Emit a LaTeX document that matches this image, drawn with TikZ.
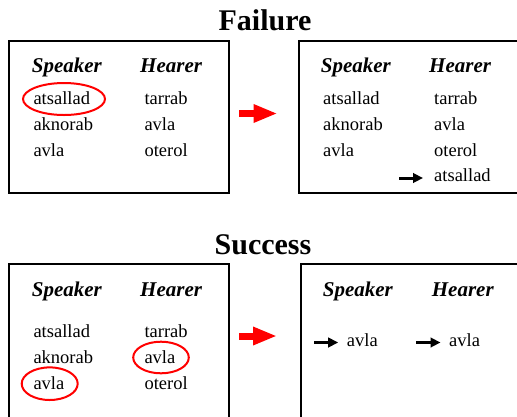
\documentclass[tikz,border=0pt]{standalone}
\usepackage{fontspec}
\setmainfont{Liberation Serif}
\usetikzlibrary{arrows.meta}

\begin{document}
\begin{tikzpicture}[x=1pt, y=-1pt,
      panel/.style ={rectangle, draw=black, line width=2pt, fill=white,
        minimum width=220pt, minimum height=152pt, inner sep=0pt},
      title/.style ={anchor=base, inner sep=0pt,
        font=\fontsize{30}{36}\selectfont\rmfamily\bfseries},
      head/.style ={anchor=base west, inner sep=0pt,
        font=\fontsize{21}{25}\selectfont\rmfamily\bfseries\itshape},
      word/.style ={anchor=base west, inner sep=0pt,
        font=\fontsize{18.5}{22}\selectfont\rmfamily},
      ring/.style ={draw=red, line width=2pt},
      step_arrow/.style ={draw=red, line width=7pt,
        -{Triangle[length=24pt,width=17pt]}},
      new_arrow/.style ={draw=black, line width=3pt,
        -{Triangle[length=10pt,width=9.5pt]}}]
    \clip (0,0) rectangle (517,416);
    %
    % 1. failure row
    \node [title] (t_fail) at (265,30) {Failure};
    \node [panel] (panel_tl) at (119,116.5) {};
    \node [panel, minimum width=225pt] (panel_tr) at (411,116.5) {};
    % speaker and hearer before
    \node [head] (tl_sp) at (31.7,72.7) {Speaker};
    \node [head] (tl_hr) at (140,72.7) {Hearer};
    \node [word] (tl_s1) at (33.3,104) {atsallad};
    \node [word] (tl_s2) at (33.3,130) {aknorab};
    \node [word] (tl_s3) at (33.3,156) {avla};
    \node [word] (tl_h1) at (144.3,104) {tarrab};
    \node [word] (tl_h2) at (144.3,130) {avla};
    \node [word] (tl_h3) at (144.3,156) {oterol};
    % speaker and hearer after
    \node [head] (tr_sp) at (320.7,72.7) {Speaker};
    \node [head] (tr_hr) at (429,72.7) {Hearer};
    \node [word] (tr_s1) at (323,104) {atsallad};
    \node [word] (tr_s2) at (323,130) {aknorab};
    \node [word] (tr_s3) at (323,156) {avla};
    \node [word] (tr_h1) at (434,104) {tarrab};
    \node [word] (tr_h2) at (434,130) {avla};
    \node [word] (tr_h3) at (434,156) {oterol};
    \node [word] (tr_h4) at (434,181.7) {atsallad};
    \coordinate (tr_new) at (399,178);
    %
    % 2. success row
    \node [title] (t_succ) at (263,254) {Success};
    \node [panel, minimum height=160pt] (panel_bl) at (119,344) {};
    \node [panel, minimum width=225pt, minimum height=160pt] (panel_br) at (413.5,344) {};
    % speaker and hearer before
    \node [head] (bl_sp) at (31.7,296.7) {Speaker};
    \node [head] (bl_hr) at (140,296.7) {Hearer};
    \node [word] (bl_s1) at (33.3,337.3) {atsallad};
    \node [word] (bl_s2) at (33.3,363.3) {aknorab};
    \node [word] (bl_s3) at (33.3,389.3) {avla};
    \node [word] (bl_h1) at (144.3,337.3) {tarrab};
    \node [word] (bl_h2) at (144.3,363.3) {avla};
    \node [word] (bl_h3) at (144.3,389.3) {oterol};
    % speaker and hearer after
    \node [head] (br_sp) at (322.7,296.7) {Speaker};
    \node [head] (br_hr) at (431.7,296.7) {Hearer};
    \node [word] (br_s1) at (346.7,346) {avla};
    \node [word] (br_h1) at (449,346) {avla};
    \coordinate (br_snew) at (314,342.5);
    \coordinate (br_hnew) at (416,342.5);
    %
    % 3. rings round the chosen words
    \draw [ring] (64,99) ellipse (41 and 16);
    \draw [ring] (49.7,383.7) ellipse (28 and 16.3);
    \draw [ring] (161,357.5) ellipse (27.8 and 15.8);
    %
    % 4. arrows
    \draw [step_arrow, shorten <=9pt, shorten >=20pt]
      ([yshift=3pt]panel_tl.east) -- ([yshift=3pt]panel_tr.west);
    \draw [step_arrow, shorten <=9pt, shorten >=23pt]
      ([yshift=8pt]panel_bl.east) -- ([yshift=8pt]panel_br.west);
    \draw [new_arrow, shorten >=11pt] (tr_new) -- (tr_new -| tr_h4.west);
    \draw [new_arrow, shorten >=8.5pt] (br_snew) -- (br_snew -| br_s1.west);
    \draw [new_arrow, shorten >=8.5pt] (br_hnew) -- (br_hnew -| br_h1.west);
\end{tikzpicture}
\end{document}
